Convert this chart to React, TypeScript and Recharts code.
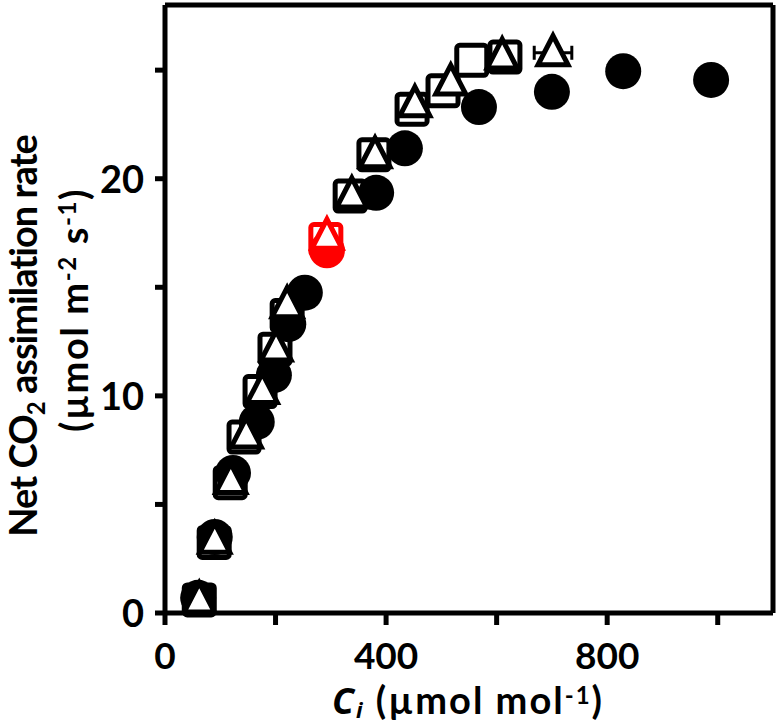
import { ScatterChart, Scatter, XAxis, YAxis, ReferenceLine, Cell, ErrorBar } from "recharts";

// Ci (µmol mol-1) and net assimilation (µmol m-2 s-1), three genotypes
const circleCi = [60, 90, 123, 166, 197, 223, 253, 293, 382, 434, 568, 700, 829, 988];
const circleA = [0.7, 3.5, 6.45, 8.8, 10.95, 13.3, 14.75, 16.7, 19.35, 21.4, 23.3, 24.0, 24.95, 24.55];

const squareCi = [62, 89, 118, 143, 172, 199, 221, 291, 335, 378, 447, 503, 555, 615];
const squareA = [0.6, 3.25, 6.0, 8.1, 10.2, 12.15, 13.7, 17.2, 19.2, 21.1, 23.2, 24.05, 25.45, 25.6];

const triangleCi = [62, 90, 119, 147, 176, 201, 221, 293, 338, 380, 452, 517, 610, 702];
const triangleA = [0.6, 3.35, 6.1, 8.2, 10.25, 12.2, 14.2, 17.35, 19.25, 21.1, 23.45, 24.45, 25.65, 25.8];
const triangleCiErr = [0, 0, 0, 0, 0, 0, 0, 0, 0, 0, 0, 0, 0, 34];

// point measured at ambient CO2 (drawn red)
const AMBIENT_INDEX = 7;

const xTicks = [0, 200, 400, 600, 800, 1000];
const xLabels = [0, 400, 800];
const yTicks = [0, 5, 10, 15, 20, 25];
const yLabels = [0, 10, 20];

const FONT = "Lato";
const ITALIC_FONT = "Open Sans";
const RED = "#ff0000";

const circles = circleCi.map((x, i) => ({ x, y: circleA[i] }));
const squares = squareCi.map((x, i) => ({ x, y: squareA[i] }));
const triangles = triangleCi.map((x, i) => ({ x, y: triangleA[i], err: triangleCiErr[i] }));

const colorAt = (i: number) => (i === AMBIENT_INDEX ? RED : "#000");

const CircleShape = (p: any) => <circle cx={p.cx} cy={p.cy} r={18} fill={p.fill} />;

const SquareShape = (p: any) => (
  <rect x={p.cx - 15} y={p.cy - 15} width={30} height={30} rx={3} fill="#fff" stroke={p.fill} strokeWidth={5} />
);

const TriangleShape = (p: any) => {
  const { cx, cy } = p;
  const pts = `${cx},${cy - 17} ${cx - 15},${cy + 12} ${cx + 15},${cy + 12}`;
  return <polygon points={pts} fill="#fff" stroke={p.fill} strokeWidth={5} strokeLinejoin="miter" />;
};

const XTick = (props: any) => {
  const { x, y, payload } = props;
  if (!xLabels.includes(payload.value)) return <g />;
  return (
    <text x={x} y={y + 44} textAnchor="middle" fontFamily={FONT} fontWeight={700} fontSize={37} fill="#000">
      {payload.value}
    </text>
  );
};

const YTick = (props: any) => {
  const { x, y, payload } = props;
  if (!yLabels.includes(payload.value)) return <g />;
  return (
    <text x={x - 11} y={y + 14} textAnchor="end" fontFamily={FONT} fontWeight={700} fontSize={38} fill="#000">
      {payload.value}
    </text>
  );
};

const axisStroke = { stroke: "#000", strokeWidth: 5 };

export default function App() {
  return (
    <div style={{ position: "absolute", left: 0, top: 0, width: 778, height: 728, background: "#fff" }}>
      <ScatterChart width={778} height={728} margin={{ top: 5, right: 5, left: 0, bottom: 0 }}>
        <XAxis
          type="number"
          dataKey="x"
          domain={[0, 1100]}
          ticks={xTicks}
          interval={0}
          height={115}
          tickSize={12}
          tickMargin={0}
          axisLine={axisStroke}
          tickLine={axisStroke}
          tick={<XTick />}
        />
        <YAxis
          type="number"
          dataKey="y"
          domain={[0, 28]}
          ticks={yTicks}
          interval={0}
          width={165}
          tickSize={10}
          tickMargin={0}
          axisLine={axisStroke}
          tickLine={axisStroke}
          tick={<YTick />}
        />
        <ReferenceLine y={28} stroke="#000" strokeWidth={5} />
        <ReferenceLine x={1100} stroke="#000" strokeWidth={5} />
        <Scatter data={squares} shape={SquareShape} isAnimationActive={false}>
          {squares.map((_, i) => (
            <Cell key={i} fill={colorAt(i)} />
          ))}
        </Scatter>
        <Scatter data={circles} shape={CircleShape} isAnimationActive={false}>
          {circles.map((_, i) => (
            <Cell key={i} fill={colorAt(i)} />
          ))}
        </Scatter>
        <Scatter data={triangles} shape={TriangleShape} isAnimationActive={false}>
          <ErrorBar dataKey="err" direction="x" width={7} stroke="#000" strokeWidth={3} />
          {triangles.map((_, i) => (
            <Cell key={i} fill={colorAt(i)} />
          ))}
        </Scatter>
      </ScatterChart>
      <svg
        width={778}
        height={728}
        style={{ position: "absolute", left: 0, top: 0, pointerEvents: "none" }}
        fontFamily={FONT}
        fontWeight={700}
        fill="#000"
      >
        <text transform="translate(37,336) rotate(-90)" textAnchor="middle" fontSize={38} letterSpacing={-1}>
          Net CO<tspan fontSize={24} dy={8}>2</tspan>
          <tspan dy={-8}> assimilation rate</tspan>
        </text>
        <text transform="translate(88,310) rotate(-90)" textAnchor="middle" fontSize={38} letterSpacing={1.6}>
          (µmol m<tspan fontSize={24} dy={-12}>-2</tspan>
          <tspan dy={12}> s</tspan>
          <tspan fontSize={24} dy={-12}>-1</tspan>
          <tspan dy={12}>)</tspan>
        </text>
        <text x={468} y={714} textAnchor="middle" fontSize={38} letterSpacing={2}>
          <tspan fontFamily={ITALIC_FONT} fontStyle="italic" fontSize={36}>C</tspan>
          <tspan fontFamily={ITALIC_FONT} fontStyle="italic" fontSize={22} dy={4}>i</tspan>
          <tspan dy={-4}> (µmol mol</tspan>
          <tspan fontSize={24} dy={-10}>-1</tspan>
          <tspan dy={10}>)</tspan>
        </text>
      </svg>
    </div>
  );
}
